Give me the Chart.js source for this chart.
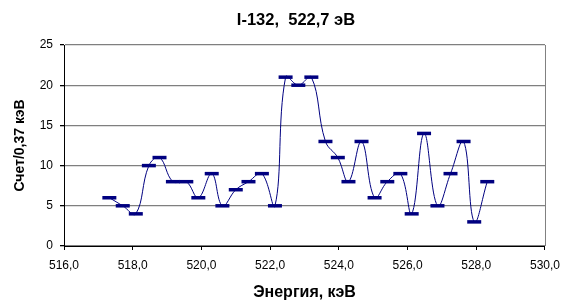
<!DOCTYPE html>
<html>
<head>
<meta charset="utf-8">
<script src="https://cdn.jsdelivr.net/npm/chart.js@4/dist/chart.umd.min.js"></script>
<style>
    html, body { margin: 0; padding: 0; background: #fff; }
    #wrap { width: 568px; height: 304px; position: relative; }
</style>
</head>
<body>
<div id="wrap"><canvas id="chart"></canvas></div>
<script>
// Energy (keV) of each channel
const energies = [
    517.32, 517.71, 518.09, 518.47, 518.78, 519.17, 519.56, 519.91,
    520.30, 520.61, 521.00, 521.37, 521.76, 522.14, 522.45, 522.82,
    523.20, 523.61, 523.97, 524.28, 524.66, 525.04, 525.41, 525.79,
    526.12, 526.48, 526.87, 527.25, 527.63, 527.94, 528.32
];
// Counts per 0.37 keV channel
const counts = [
    6, 5, 4, 10, 11, 8, 8, 6,
    9, 5, 7, 8, 9, 5, 21, 20,
    21, 13, 11, 8, 13, 6, 8, 9,
    4, 14, 5, 9, 13, 3, 8
];
const xTicks = [516, 518, 520, 522, 524, 526, 528, 530];
const yTicks = [0, 5, 10, 15, 20, 25];

const chartTitle = 'I-132,  522,7 эВ';
const xTitle = 'Энергия, кэВ';
const yTitle = 'Счет/0,37 кэВ';

const FONT = "'Liberation Sans', Arial, sans-serif";
const NAVY = '#000080';

// Titles and the frame are drawn at fixed places, like the Excel original
const framePlugin = {
    id: 'frame',
    afterDraw(chart) {
        const ctx = chart.ctx;
        const a = chart.chartArea;
        ctx.save();
        // right border of the plot
        ctx.strokeStyle = '#808080';
        ctx.lineWidth = 1;
        ctx.beginPath();
        ctx.moveTo(a.right + 0.5, a.top);
        ctx.lineTo(a.right + 0.5, a.bottom);
        ctx.stroke();

        ctx.fillStyle = '#000';
        ctx.textAlign = 'center';
        ctx.textBaseline = 'middle';
        ctx.font = 'bold 16.5px ' + FONT;
        ctx.fillText(chartTitle, 296, 20);

        // x title sits in the middle of the plot area
        ctx.font = 'bold 16px ' + FONT;
        ctx.fillText(xTitle, (a.left + a.right) / 2, 292.5);

        ctx.font = 'bold 14px ' + FONT;
        ctx.translate(20, (a.top + a.bottom) / 2);
        ctx.rotate(-Math.PI / 2);
        ctx.fillText(yTitle, 0, 0);
        ctx.restore();
    }
};

const points = energies.map((e, i) => ({ x: e, y: counts[i] }));

new Chart(document.getElementById('chart').getContext('2d'), {
    type: 'line',
    data: {
        datasets: [{
            data: points,
            borderColor: NAVY,
            borderWidth: 1,
            tension: 0.4,
            pointStyle: 'line',
            pointRadius: 7,
            pointBorderWidth: 3.5,
            pointBorderColor: NAVY,
            pointBackgroundColor: NAVY,
            clip: false
        }]
    },
    options: {
        responsive: true,
        maintainAspectRatio: false,
        animation: false,
        layout: { padding: { top: 45, right: 17 } },
        plugins: {
            legend: { display: false },
            tooltip: { enabled: false }
        },
        scales: {
            x: {
                type: 'linear',
                min: 516,
                max: 530,
                afterFit: (s) => { s.height = 58; },
                afterBuildTicks: (s) => { s.ticks = xTicks.map(v => ({ value: v })); },
                grid: {
                    drawOnChartArea: false,
                    drawTicks: true,
                    tickLength: 4,
                    tickColor: '#000'
                },
                border: { color: '#000', width: 1 },
                ticks: {
                    maxRotation: 0,
                    padding: 8,
                    color: '#000',
                    font: { family: FONT, size: 12 },
                    callback: (v) => v.toFixed(1).replace('.', ',')
                }
            },
            y: {
                min: 0,
                max: 25,
                afterFit: (s) => { s.width = 64; },
                afterBuildTicks: (s) => { s.ticks = yTicks.map(v => ({ value: v })); },
                grid: {
                    color: '#7f7f7f',
                    lineWidth: 1.3,
                    tickLength: 4,
                    tickColor: '#000'
                },
                border: { color: '#000', width: 1 },
                ticks: {
                    padding: 7,
                    color: '#000',
                    font: { family: FONT, size: 12 }
                }
            }
        }
    },
    plugins: [framePlugin]
});
</script>
</body>
</html>
